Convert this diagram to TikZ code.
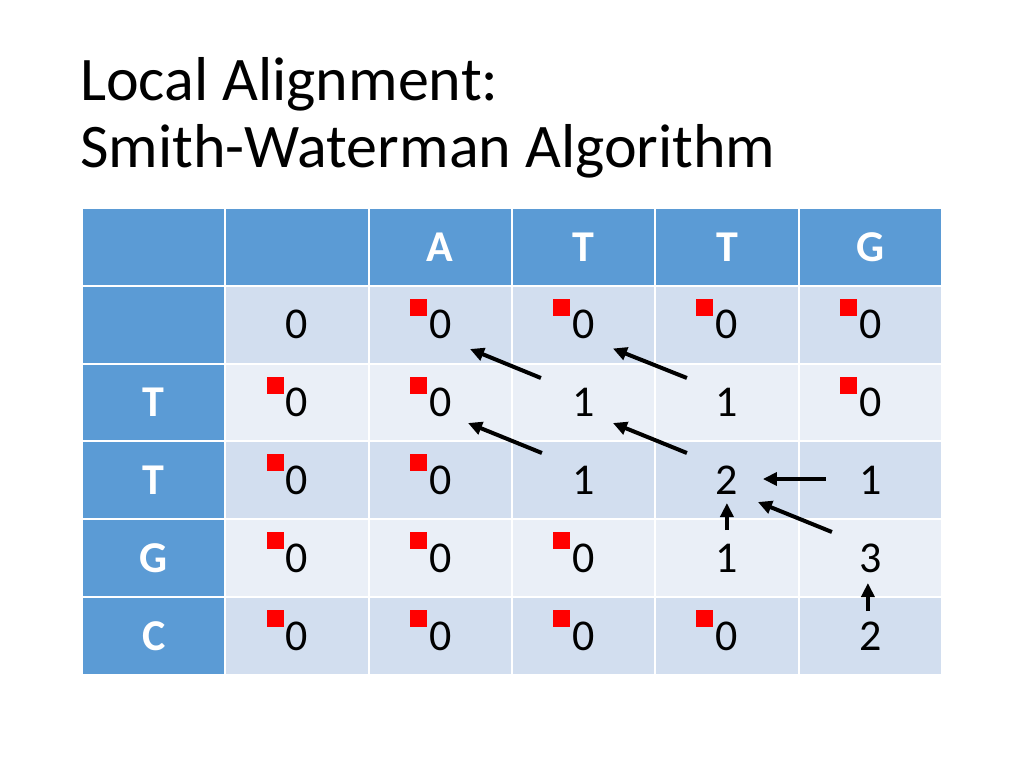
\documentclass[tikz,border=0pt]{standalone}
\usepackage{fontspec}
\setmainfont{Carlito}
\usetikzlibrary{arrows.meta}
\definecolor{hdblue}{HTML}{5B9BD5}
\definecolor{bandA}{HTML}{D2DEEF}
\definecolor{bandB}{HTML}{EAEFF7}

\begin{document}
\begin{tikzpicture}[x=1pt,y=-1pt,
  cell/.style={draw=white,line width=2pt,minimum width=143.3pt,minimum height=77.8pt,inner sep=0pt,font=\fontsize{44}{44}\selectfont},
  head/.style={cell,fill=hdblue,text=white,font=\fontsize{44}{44}\selectfont\bfseries},
  dark/.style={cell,fill=bandA},
  light/.style={cell,fill=bandB},
  flag/.style={fill=red,inner sep=0pt,minimum size=17pt},
  trace/.style={-{Triangle[length=14pt,width=13pt]},line width=4pt}]
\fill[white] (0,0) rectangle (1024,768);
\useasboundingbox (0,0) rectangle (1024,768);
% title
\node[anchor=base west,inner sep=0pt,font=\fontsize{62}{67}\selectfont] (title1) at (80,100) {Local Alignment:};
\node[anchor=base west,inner sep=0pt,font=\fontsize{62}{67}\selectfont] (title2) at (80,167) {Smith-Waterman Algorithm};
% header row
\foreach \lab [count=\c from 0] in {{},{},A,T,T,G}
  \node[head] (c-0-\c) at (153.7+143.3*\c,246.9) {\lab};
% score rows: value/flag
\foreach \r/\lab/\band/\vals in {1/{}/dark/{0/0,0/1,0/1,0/1,0/1},
    2/T/light/{0/1,0/1,1/0,1/0,0/1}, 3/T/dark/{0/1,0/1,1/0,2/0,1/0},
    4/G/light/{0/1,0/1,0/1,1/0,3/0}, 5/C/dark/{0/1,0/1,0/1,0/1,2/0}} {
  \node[head] (c-\r-0) at (153.7,246.9+77.8*\r) {\lab};
  \foreach \v/\f [count=\c] in \vals {
    \node[\band] (c-\r-\c) at (153.7+143.3*\c,246.9+77.8*\r) {\v};
    \ifnum\f=1 \node[flag] (f-\r-\c) at ([shift={(-22,-17.5)}]c-\r-\c.center) {};\fi
  }
}
% traceback
\draw[trace] ([shift={(-42.7,-24.5)}]c-2-3.center) -- ([shift={(29.7,24.3)}]c-1-2.center);
\draw[trace] ([shift={(-40,-24.5)}]c-2-4.center) -- ([shift={(29.3,23.8)}]c-1-3.center);
\draw[trace] ([shift={(-41.7,-27.3)}]c-3-3.center) -- ([shift={(27.7,20.5)}]c-2-2.center);
\draw[trace] ([shift={(-40,-27.3)}]c-3-4.center) -- ([shift={(29.3,20.5)}]c-2-3.center);
\draw[trace] ([shift={(-44.3,-1.3)}]c-3-5.center) -- ([shift={(36,-1.3)}]c-3-4.center);
\draw[trace] ([shift={(-38.3,-26.1)}]c-4-5.center) -- ([shift={(31,21.7)}]c-3-4.center);
\draw[trace] ([shift={(0,-28.1)}]c-4-4.center) -- ([shift={(0,22.7)}]c-3-4.center);
\draw[trace] ([shift={(-2.3,-24.9)}]c-5-5.center) -- ([shift={(-2.3,24.9)}]c-4-5.center);
\end{tikzpicture}
\end{document}
